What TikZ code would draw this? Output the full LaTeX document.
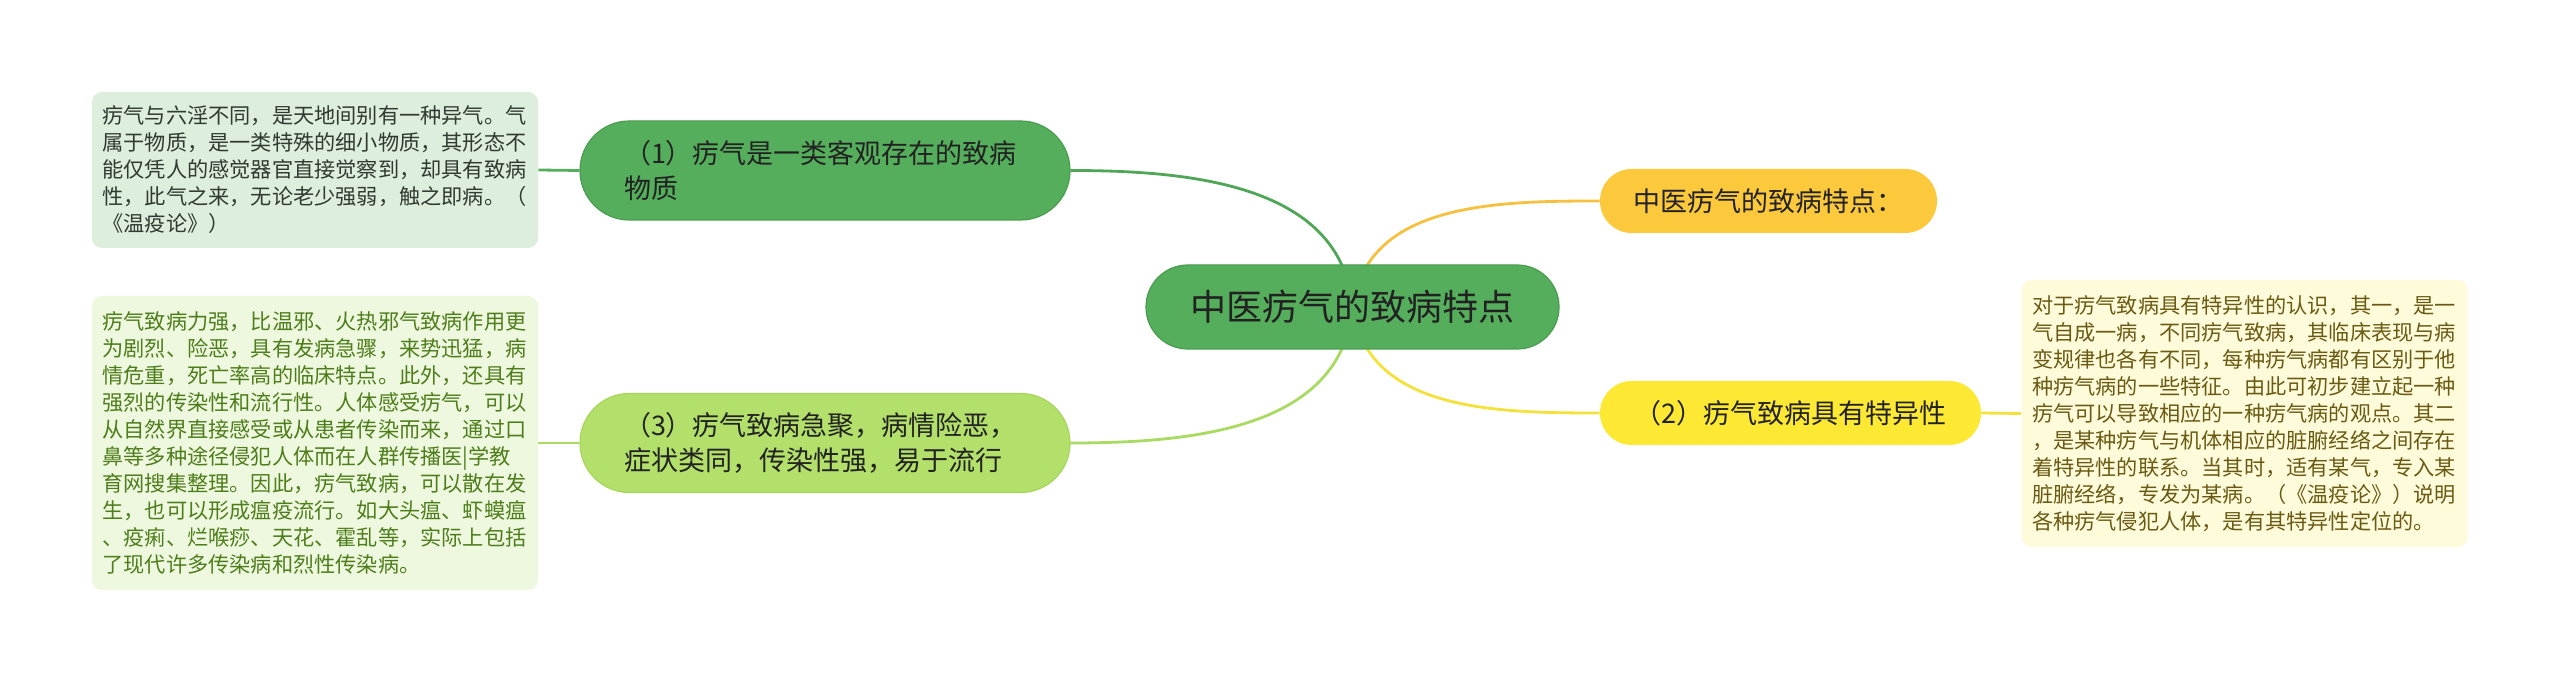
\documentclass[tikz,border=0pt]{standalone}
\usepackage{fontspec}
\newfontfamily\cjk{Noto Sans CJK SC}
\usetikzlibrary{backgrounds}
\definecolor{cgreen}{HTML}{55AE5B}
\definecolor{cgreenedge}{HTML}{4A9D50}
\definecolor{clight}{HTML}{B3E06A}
\definecolor{clightedge}{HTML}{A6D65C}
\definecolor{corange}{HTML}{FCC83C}
\definecolor{cyellow}{HTML}{FDE933}
\definecolor{lgreen}{HTML}{4FA657}
\definecolor{llight}{HTML}{A9DA62}
\definecolor{lorange}{HTML}{F6C040}
\definecolor{lyellow}{HTML}{F4E13A}
\definecolor{bone}{HTML}{DDEEDD}
\definecolor{bthree}{HTML}{EEF8DE}
\definecolor{btwo}{HTML}{FEFBDA}
\definecolor{tone}{HTML}{2F3A30}
\definecolor{tthree}{HTML}{4E7D1C}
\definecolor{ttwo}{HTML}{6A5A14}
\definecolor{tdark}{HTML}{222222}
\tikzset{
  centernode/.style={fill=cgreen, draw=cgreenedge, line width=0.6pt, rounded corners=20.9pt,
    minimum width=206.5pt, minimum height=42pt, inner sep=0pt, text=tdark,
    font=\cjk\fontsize{18pt}{22pt}\selectfont},
  mainnode/.style={rounded corners=24.7pt, text width=201pt, inner xsep=22pt, inner ysep=0pt,
    minimum height=49.5pt, align=left, text=tdark, line width=0.6pt,
    font=\cjk\fontsize{13.5pt}{17.5pt}\selectfont},
  pillnode/.style={rounded corners=15.9pt, minimum height=32pt, inner sep=0pt, text=tdark,
    font=\cjk\fontsize{13.5pt}{17.5pt}\selectfont},
  notebox/.style={rounded corners=5pt, text width=212.5pt, inner xsep=5.25pt, inner ysep=0pt,
    align=left, font=\cjk\fontsize{10.6pt}{13.5pt}\selectfont},
  link/.style={line width=1.4pt},
}
\begin{document}
\begin{tikzpicture}[x=0.5pt,y=-0.5pt]
\useasboundingbox (0,0) rectangle (2560,683);

\node[centernode] (c) at (1352.5,307) {中医疠气的致病特点};

\node[mainnode, fill=cgreen, draw=cgreenedge] (n1) at (825,170.5)
  {（1）疠气是一类客观存在的致病\\物质};
\node[mainnode, fill=clight, draw=clightedge] (n3) at (825,443)
  {（3）疠气致病急聚，病情险恶，\\症状类同，传染性强，易于流行};

\node[pillnode, fill=corange, minimum width=168.5pt] (o) at (1768.5,201) {中医疠气的致病特点：};
\node[pillnode, fill=cyellow, minimum width=190.5pt] (y) at (1790.5,413) {（2）疠气致病具有特异性};

\node[notebox, fill=bone, text=tone, minimum height=78pt] (b1) at (315,170)
  {疠气与六淫不同，是天地间别有一种异气。气\\
   属于物质，是一类特殊的细小物质，其形态不\\
   能仅凭人的感觉器官直接觉察到，却具有致病\\
   性，此气之来，无论老少强弱，触之即病。（\\
   《温疫论》）};

\node[notebox, fill=bthree, text=tthree, minimum height=147pt] (b3) at (315,443)
  {疠气致病力强，比温邪、火热邪气致病作用更\\
   为剧烈、险恶，具有发病急骤，来势迅猛，病\\
   情危重，死亡率高的临床特点。此外，还具有\\
   强烈的传染性和流行性。人体感受疠气，可以\\
   从自然界直接感受或从患者传染而来，通过口\\
   鼻等多种途径侵犯人体而在人群传播医|学教\\
   育网搜集整理。因此，疠气致病，可以散在发\\
   生，也可以形成瘟疫流行。如大头瘟、虾蟆瘟\\
   、疫痢、烂喉痧、天花、霍乱等，实际上包括\\
   了现代许多传染病和烈性传染病。};

\node[notebox, fill=btwo, text=ttwo, minimum height=133.5pt] (b2) at (2244.5,413.5)
  {对于疠气致病具有特异性的认识，其一，是一\\
   气自成一病，不同疠气致病，其临床表现与病\\
   变规律也各有不同，每种疠气病都有区别于他\\
   种疠气病的一些特征。由此可初步建立起一种\\
   疠气可以导致相应的一种疠气病的观点。其二\\
   ，是某种疠气与机体相应的脏腑经络之间存在\\
   着特异性的联系。当其时，适有某气，专入某\\
   脏腑经络，专发为某病。（《温疫论》）说明\\
   各种疠气侵犯人体，是有其特异性定位的。};

\begin{pgfonlayer}{background}
  \fill[white] (0,0) rectangle (2560,683);
  \draw[link, lgreen] (c.center) to[out=95,in=0] (n1.east);
  \draw[link, llight] (c.center) to[out=-95,in=0] (n3.east);
  \draw[link, lorange] (c.center) to[out=82,in=180] (o.west);
  \draw[link, lyellow] (c.center) to[out=-82,in=180] (y.west);
  \draw[link, cgreen] (b1.east) -- (n1.west);
  \draw[link, llight] (b3.east) -- (n3.west);
  \draw[link, lyellow] (y.east) -- (b2.west);
\end{pgfonlayer}
\end{tikzpicture}
\end{document}
